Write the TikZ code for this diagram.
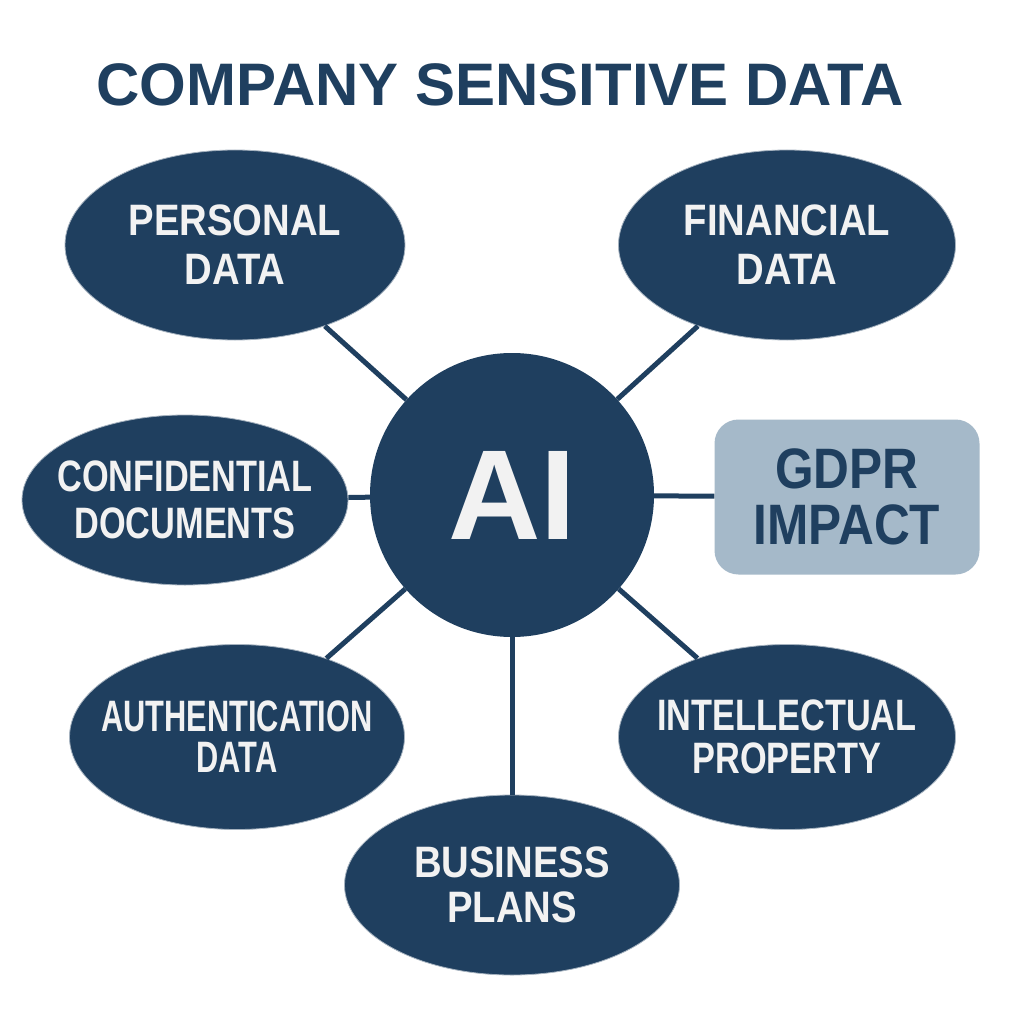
\documentclass[tikz,border=0pt]{standalone}
\usepackage{fontspec}
\usetikzlibrary{shapes.geometric}
\newfontfamily\labelfont[FakeStretch=0.87]{Liberation Sans}
\newfontfamily\slimfont[FakeStretch=0.78]{Liberation Sans}
\newfontfamily\narrowfont[FakeStretch=0.70]{Liberation Sans}
\newfontfamily\titlefont{Liberation Sans}
\definecolor{navy}{HTML}{1F3F5F}
\definecolor{paleblue}{HTML}{A5B9C9}
\definecolor{offwhite}{HTML}{F2F2F2}

\begin{document}
\begin{tikzpicture}[x=1pt, y=-1pt,
	every topic/.style={ellipse, fill=navy, draw=navy!40, line width=0.8pt,
		text=offwhite, align=center, inner xsep=-80pt, inner ysep=-40pt,
		font=\labelfont\bfseries\fontsize{44}{49}\selectfont},
	topic confidential/.style={font=\slimfont\bfseries\fontsize{44}{47}\selectfont},
	topic intellectual/.style={font=\slimfont\bfseries\fontsize{44}{43}\selectfont},
	topic authentication/.style={font=\narrowfont\bfseries\fontsize{44}{41}\selectfont},
	topic business/.style={font=\labelfont\bfseries\fontsize{44}{45}\selectfont},
	link/.style={draw=navy, line width=5pt}]

		\useasboundingbox [fill=white] (0,0) rectangle (1024,1024);

		% heading
		\node [text=navy, font=\titlefont\bfseries\fontsize{60}{66}\selectfont]
			(title) at (500,85) {COMPANY SENSITIVE DATA};

		% centre
		\node [circle, fill=navy, minimum size=284pt, inner sep=0pt, text=offwhite,
			font=\titlefont\bfseries\fontsize{128}{130}\selectfont] (ai) at (512,495) {AI};

		% data topics
		\foreach \n/\x/\y/\w/\h/\t in {
			personal/235/245/340/190/{PERSONAL\\DATA},
			financial/787/245/337/190/{FINANCIAL\\DATA},
			confidential/185/500/326/170/{CONFIDENTIAL\\DOCUMENTS},
			authentication/237/737/335/185/{AUTHENTICATION\\DATA},
			intellectual/787/737/337/185/{INTELLECTUAL\\PROPERTY},
			business/512/885/335/180/{BUSINESS\\PLANS}}
			\node [every topic/.try, topic \n/.try, minimum width=\w pt, minimum height=\h pt]
				(\n) at (\x,\y) {\t};

		% gdpr box
		\node [rounded corners=24pt, fill=paleblue, minimum width=265pt, minimum height=155pt,
			text=navy, align=center,
			font=\labelfont\bfseries\fontsize{57}{56}\selectfont] (gdpr) at (847,497) {GDPR\\IMPACT};

		% lines from topics to centre
		\foreach \n in {personal,financial,confidential,authentication,intellectual,business,gdpr}
			\draw [link] (ai) -- (\n);

		\end{tikzpicture}
\end{document}
